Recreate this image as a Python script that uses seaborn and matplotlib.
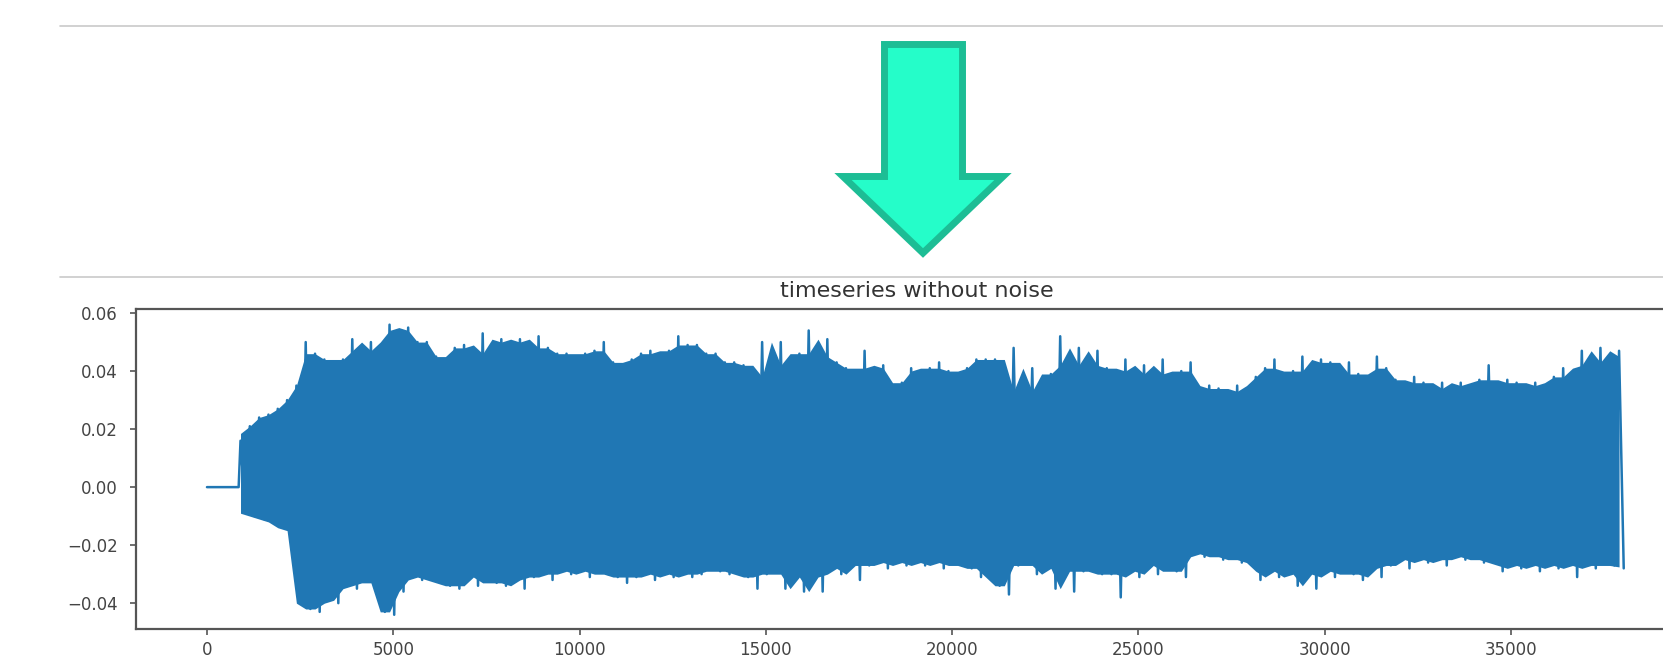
import numpy as np
import pandas as pd
import matplotlib
matplotlib.use("Agg")
import matplotlib.pyplot as plt
from matplotlib.lines import Line2D
from matplotlib.patches import Polygon
import seaborn as sns

# ---- signal: silent lead-in, then per-window peak (hi) and trough (lo) amplitudes ----
silence_end = 850          # end of the flat lead-in (samples)
window_start = 900         # sample of the first window's peak
window_len = 250           # samples per window

peak_hi = [
    # onset
    0.016, 0.021, 0.024, 0.025, 0.027, 0.030, 0.035,
    # 2650 - 9400
    0.050, 0.046, 0.044, 0.043, 0.044, 0.051, 0.047, 0.050, 0.047, 0.056,
    0.054, 0.055, 0.050, 0.050, 0.045, 0.044, 0.048, 0.049, 0.045, 0.053,
    0.046, 0.051, 0.050, 0.051, 0.044, 0.052, 0.048, 0.046,
    # 9650 - 23900
    0.046, 0.045, 0.046, 0.047, 0.050, 0.043, 0.037, 0.044, 0.046, 0.047,
    0.040, 0.047, 0.052, 0.049, 0.049, 0.046, 0.046, 0.043, 0.043, 0.042,
    0.038, 0.050, 0.038, 0.050, 0.042, 0.046, 0.054, 0.045, 0.051, 0.043,
    0.041, 0.034, 0.047, 0.041, 0.042, 0.032, 0.036, 0.041, 0.040, 0.041,
    0.043, 0.040, 0.039, 0.041, 0.044, 0.044, 0.044, 0.033, 0.048, 0.033,
    0.041, 0.031, 0.039, 0.052, 0.042, 0.048, 0.042, 0.047,
    # 24150 - 37900
    0.041, 0.040, 0.044, 0.038, 0.042, 0.039, 0.044, 0.038, 0.040, 0.043,
    0.030, 0.035, 0.034, 0.033, 0.035, 0.033, 0.038, 0.041, 0.044, 0.038,
    0.040, 0.045, 0.039, 0.044, 0.043, 0.038, 0.043, 0.039, 0.038, 0.045,
    0.041, 0.037, 0.035, 0.038, 0.036, 0.034, 0.036, 0.030, 0.036, 0.035,
    0.037, 0.042, 0.036, 0.037, 0.036, 0.035, 0.036, 0.034, 0.038, 0.041,
    0.038, 0.047, 0.042, 0.048, 0.043, 0.047,
]

peak_lo = [
    # onset
    -0.008, -0.010, -0.011, -0.012, -0.014, -0.015, -0.040,
    # 2775 - 9525
    -0.042, -0.043, -0.039, -0.040, -0.034, -0.035, -0.032, -0.033, -0.043, -0.044,
    -0.036, -0.031, -0.032, -0.030, -0.033, -0.034, -0.035, -0.031, -0.034, -0.030,
    -0.033, -0.034, -0.032, -0.035, -0.031, -0.030, -0.032, -0.029,
    # 9775 - 24025
    -0.030, -0.028, -0.031, -0.029, -0.030, -0.031, -0.033, -0.031, -0.029, -0.032,
    -0.030, -0.031, -0.029, -0.031, -0.030, -0.028, -0.029, -0.030, -0.028, -0.031,
    -0.035, -0.030, -0.029, -0.035, -0.030, -0.036, -0.031, -0.036, -0.028, -0.030,
    -0.027, -0.032, -0.027, -0.026, -0.028, -0.026, -0.027, -0.025, -0.027, -0.026,
    -0.028, -0.026, -0.027, -0.028, -0.031, -0.026, -0.034, -0.037, -0.027, -0.021,
    -0.030, -0.027, -0.035, -0.028, -0.036, -0.029, -0.027, -0.030,
    # 24275 - 38025
    -0.030, -0.038, -0.029, -0.031, -0.027, -0.030, -0.026, -0.029, -0.031, -0.022,
    -0.024, -0.023, -0.025, -0.024, -0.026, -0.025, -0.032, -0.029, -0.031, -0.028,
    -0.034, -0.030, -0.035, -0.029, -0.031, -0.028, -0.030, -0.032, -0.028, -0.031,
    -0.027, -0.025, -0.028, -0.024, -0.026, -0.025, -0.027, -0.024, -0.025, -0.023,
    -0.026, -0.025, -0.029, -0.027, -0.028, -0.026, -0.029, -0.027, -0.028, -0.026,
    -0.031, -0.027, -0.028, -0.025, -0.027, -0.028,
]

x_ticks = [0, 5000, 10000, 15000, 20000, 25000, 30000, 35000]
y_ticks = [-0.04, -0.02, 0.00, 0.02, 0.04, 0.06]
title = "timeseries without noise"

# ---- waveform: alternate each window's peak and trough ----
hi = pd.Series(peak_hi, dtype=float)
lo = pd.Series(peak_lo, dtype=float)
n = len(hi)
hi_idx = window_start + window_len * np.arange(n)
lo_idx = hi_idx + window_len // 2

samples = np.concatenate([[0, silence_end], np.ravel(np.column_stack([hi_idx, lo_idx]))])
amplitude = np.concatenate([[0.0, 0.0], np.ravel(np.column_stack([hi, lo]))])
wave = pd.DataFrame({"sample": samples, "amplitude": amplitude})

# solid core of the oscillation: typical level of neighbouring windows
core_hi = hi.rolling(3, center=True, min_periods=1).median().to_numpy()
core_lo = lo.rolling(3, center=True, min_periods=1).median().to_numpy()

# ---- figure ----
sns.set_style("ticks")
plt.rcParams["font.family"] = ["DejaVu Sans"]

W, H = 1663, 663
fig = plt.figure(figsize=(W / 100, H / 100), dpi=100)
fig.patch.set_facecolor("white")

# notebook cell separators
for yy in (26, 277):
    fig.add_artist(Line2D([60 / W, 1.0], [1 - yy / H] * 2, transform=fig.transFigure,
                          color="#c9c9c9", lw=1.2))

# big down arrow between the cells
arrow_px = [(884.5, 44.5), (962.5, 44.5), (962.5, 176.5), (1003, 176.5),
            (923, 253), (843, 176.5), (884.5, 176.5)]
arrow = Polygon([(x / W, 1 - y / H) for x, y in arrow_px], closed=True,
                transform=fig.transFigure, facecolor="#25fdc9", edgecolor="#1dbd95",
                lw=5.0, joinstyle="miter")
fig.add_artist(arrow)

# axes extends past the right edge of the canvas
ax_left, ax_right, ax_top, ax_bottom = 136, 1697.5, 309, 629
ax = fig.add_axes([ax_left / W, 1 - ax_bottom / H, (ax_right - ax_left) / W,
                   (ax_bottom - ax_top) / H])

blue = "#2077b4"
ax.fill_between(hi_idx, core_hi, core_lo, color=blue, lw=0)
sns.lineplot(data=wave, x="sample", y="amplitude", ax=ax, color=blue, lw=1.8,
             sort=False, estimator=None)

ax.set_xlim(-1905, 40005)
ax.set_ylim(-0.0489, 0.0614)
ax.set_xticks(x_ticks)
ax.set_yticks(y_ticks)
ax.set_xlabel("")
ax.set_ylabel("")
ax.set_title(title, fontsize=16, color="#333333", pad=8.5)

for side in ("top", "bottom", "left", "right"):
    ax.spines[side].set_color("#555555")
    ax.spines[side].set_linewidth(1.6)
ax.tick_params(axis="both", colors="#555555", labelcolor="#444444", labelsize=12,
               length=4.3, width=1.2)
ax.tick_params(axis="x", pad=4)
ax.tick_params(axis="y", pad=9)

fig.savefig("out.png", dpi=100, facecolor="white")
